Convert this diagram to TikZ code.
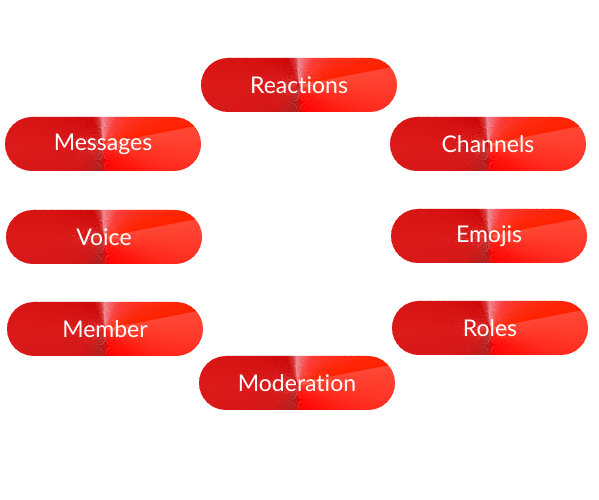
\documentclass[tikz,border=0pt]{standalone}
\usepackage{fontspec}
\setmainfont{Lato}[Ligatures={NoCommon,NoContextual}]
\usepackage{xcolor}
\definecolor{cone_a}{RGB}{220,26,26}
\definecolor{cone_b}{RGB}{210,22,22}
\definecolor{cone_c}{RGB}{176,30,30}
\definecolor{cone_d}{RGB}{255,0,0}
\definecolor{cone_e}{RGB}{255,22,12}
\definecolor{cone_f}{RGB}{255,64,48}
\definecolor{cone_g}{RGB}{255,72,52}
\definecolor{cone_h}{RGB}{255,34,0}
\definecolor{cone_i}{RGB}{250,60,56}
\definecolor{cone_j}{RGB}{242,110,120}
\definecolor{cone_k}{RGB}{238,138,148}
\definecolor{cone_l}{RGB}{214,50,50}
\definecolor{cone_m}{RGB}{204,6,6}

\newcommand\conefill{%
  \foreach \sa/\ea/\ca/\cb in {-180/-135/cone_a/cone_b, -135/-100/cone_b/cone_c,
      -100/-80/cone_c/cone_d, -80/-40/cone_d/cone_e, -40/0/cone_e/cone_f,
      0/11/cone_f/cone_g, 11/60/cone_h/cone_i, 60/82/cone_i/cone_j,
      82/89/cone_j/cone_k, 89/98/cone_k/cone_l, 98/112/cone_l/cone_m,
      112/180/cone_m/cone_a}{
    \pgfmathtruncatemacro\nst{max(1,(\ea-\sa)/3)}
    \pgfmathsetmacro\dd{(\ea-\sa)/\nst}
    \foreach \i in {1,...,\nst}{
      \pgfmathsetmacro\ang{\sa+(\i-1)*\dd}
      \pgfmathtruncatemacro\pct{100-100*(\i-1)/\nst}
      \fill[\ca!\pct!\cb, sharp corners] (path picture bounding box.center) -- ++(\ang:150pt)
        arc[start angle=\ang, delta angle=\dd+0.6, radius=150pt] -- cycle;
    }
  }%
}

\tikzset{
  pill/.style={rectangle, rounded corners=27pt, minimum width=196pt,
    minimum height=54pt, text=white, font=\fontsize{23}{27}\selectfont,
    path picture={\conefill}}
}

\begin{document}
\begin{tikzpicture}[x=1pt,y=1pt]
  \useasboundingbox (0,0) rectangle (599,500);
  \node[pill] (reactions) at (299,415) {Reactions};
  \node[pill] (messages) at (103,356) {Messages};
  \node[pill] (channels) at (488,356) {Channels};
  \node[pill] (voice) at (104,263) {Voice};
  \node[pill] (emojis) at (489,264) {Emojis};
  \node[pill] (member) at (105,171) {Member};
  \node[pill] (roles) at (490,172) {Roles};
  \node[pill] (moderation) at (297,117) {Moderation};
\end{tikzpicture}
\end{document}
